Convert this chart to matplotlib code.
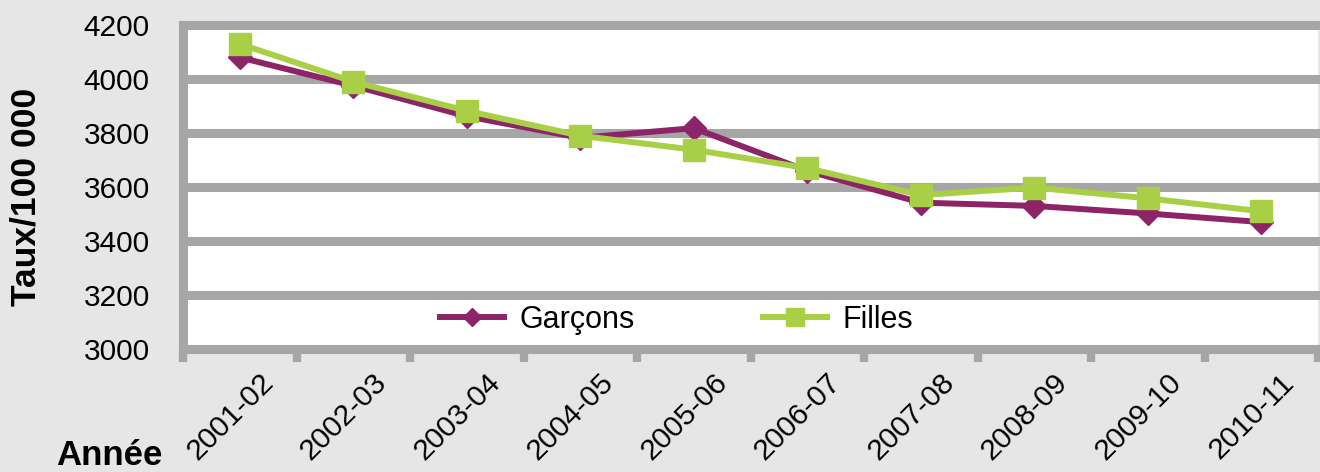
import matplotlib
matplotlib.use("Agg")
import matplotlib.pyplot as plt
import matplotlib.transforms as mtransforms
import numpy as np

plt.rcParams['font.family'] = ['Liberation Sans', 'DejaVu Sans']

years = ["2001-02", "2002-03", "2003-04", "2004-05", "2005-06",
         "2006-07", "2007-08", "2008-09", "2009-10", "2010-11"]
garcons = [4080, 3975, 3862, 3782, 3818, 3660, 3542, 3530, 3502, 3470]
filles = [4130, 3990, 3882, 3790, 3738, 3670, 3570, 3598, 3558, 3510]
yticks = [3000, 3200, 3400, 3600, 3800, 4000, 4200]

BG = "#e6e6e6"
GRID = "#a6a6a6"
C_G = "#8c2467"
C_F = "#a8cf45"

W, H = 1320, 472
fig = plt.figure(figsize=(W / 100, H / 100), dpi=100, facecolor=BG)
ax = fig.add_axes([183 / W, 1 - 349 / H, 1135 / W, (349 - 25) / H])
ax.set_facecolor("white")

x = np.arange(len(years))
ax.plot(x, garcons, color=C_G, lw=4.3, marker="D", markersize=12,
        label="Garçons", zorder=3, solid_joinstyle="round")
ax.plot(x, filles, color=C_F, lw=4.3, marker="s", markersize=16.5,
        label="Filles", zorder=4, solid_joinstyle="round")

ax.set_xlim(-0.5, len(years) - 0.5)
ax.set_ylim(yticks[0], yticks[-1])
ax.set_yticks(yticks)
ax.set_yticklabels([str(v) for v in yticks])
ax.tick_params(axis="y", length=0, pad=24, labelsize=21.5, colors="black")

ax.set_xticks(x)
ax.set_xticklabels(years, rotation=45, ha="center", va="top")
ax.set_xticks(np.arange(len(years) + 1) - 0.5, minor=True)
ax.tick_params(axis="x", which="major", length=0, pad=14, labelsize=21.5)
ax.tick_params(axis="x", which="minor", length=9.5, width=6, color=GRID)
off = mtransforms.ScaledTranslation(-7 / 72, 0, fig.dpi_scale_trans)
for lab in ax.get_xticklabels():
    lab.set_transform(lab.get_transform() + off)

ax.grid(axis="y", color=GRID, lw=6.5)
ax.set_axisbelow(True)
for gl in ax.yaxis.get_gridlines():
    gl.set_clip_on(False)

for s in ["top", "right"]:
    ax.spines[s].set_visible(False)
for s in ["left", "bottom"]:
    ax.spines[s].set_color(GRID)
    ax.spines[s].set_linewidth(6.5)
    ax.spines[s].set_zorder(1)

leg = ax.legend(loc="center left", bbox_to_anchor=(440 / W, 1 - 320 / H),
                bbox_transform=fig.transFigure, ncol=2, frameon=False,
                fontsize=22, handlelength=2.1, handletextpad=0.5,
                columnspacing=4.2, borderpad=0, borderaxespad=0,
                markerscale=0.75)

fig.text(26 / W, 1 - 197 / H, "Taux/100 000", rotation=90, ha="center",
         va="center", fontsize=25.5, fontweight="bold")
fig.text(109 / W, 1 - 465 / H, "Année", ha="center", va="baseline",
         fontsize=25, fontweight="bold")

fig.savefig("out.png", dpi=100, facecolor=BG)
